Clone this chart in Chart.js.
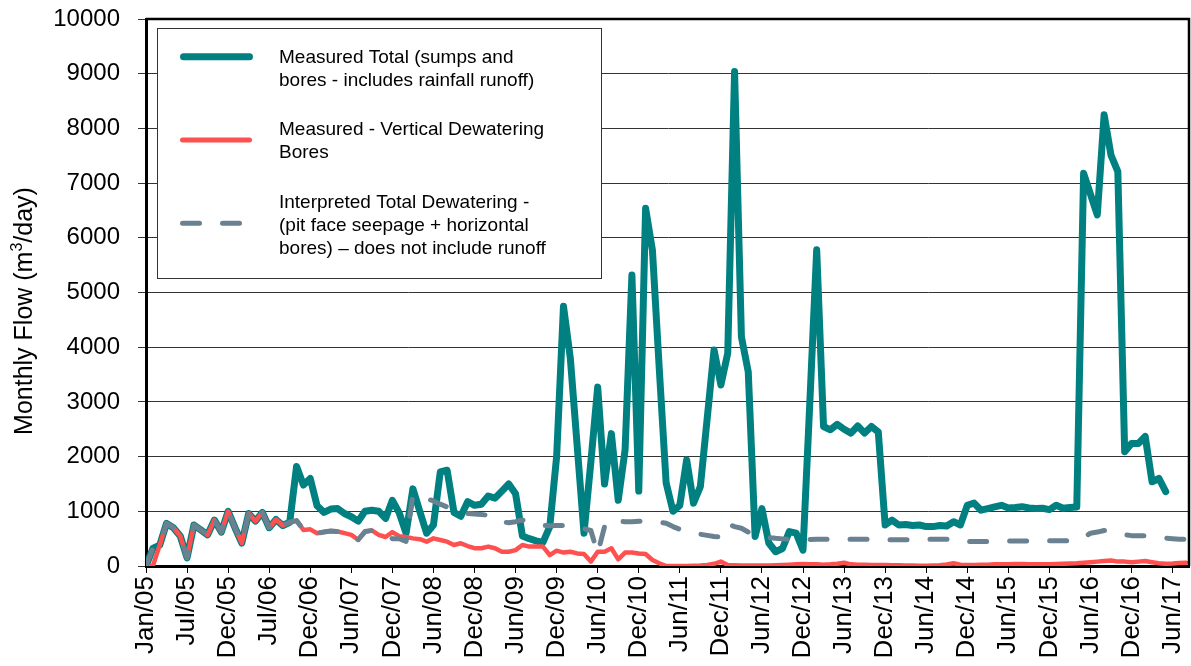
<!DOCTYPE html>
<html>
<head>
<meta charset="utf-8">
<title>Monthly Flow</title>
<script src="https://cdn.jsdelivr.net/npm/chart.js@4"></script>
<style>
  html, body { margin: 0; padding: 0; background: #fff; }
</style>
</head>
<body>
<canvas id="flow-chart" width="1191" height="666"></canvas>
<script>
// Tick labels, one every 6 points along the x axis
var tickLabels = ['Jan/05', 'Jul/05', 'Dec/05', 'Jul/06', 'Dec/06', 'Jun/07', 'Dec/07', 'Jun/08',
  'Dec/08', 'Jun/09', 'Dec/09', 'Jun/10', 'Dec/10', 'Jun/11', 'Dec/11', 'Jun/12', 'Dec/12',
  'Jun/13', 'Dec/13', 'Jun/14', 'Dec/14', 'Jun/15', 'Dec/15', 'Jun/16', 'Dec/16', 'Jun/17'];

// Measured Total (sumps and bores - includes rainfall runoff)
var measuredTotal = [
  0, 320, 380, 780, 700, 550, 150, 750, 660, 570,
  840, 620, 1000, 700, 420, 960, 820, 980, 700, 850,
  740, 800, 1820, 1480, 1600, 1100, 980, 1040, 1050, 960,
  900, 820, 1000, 1020, 1000, 870, 1200, 970, 600, 1410,
  1000, 600, 750, 1720, 1750, 980, 910, 1175, 1110, 1130,
  1280, 1240, 1370, 1500, 1320, 550, 500, 460, 430, 720,
  2000, 4750, 3800, 2200, 600, 1900, 3270, 1500, 2420, 1200,
  2120, 5320, 1370, 6540, 5770, 3600, 1520, 1000, 1110, 1940,
  1150, 1450, 2700, 3950, 3310, 3890, 9040, 4190, 3550, 540,
  1050, 420, 260, 320, 630, 600, 290, 3000, 5780, 2550,
  2490, 2590, 2500, 2430, 2560, 2430, 2550, 2450, 750, 840,
  750, 760, 740, 750, 720, 720, 740, 730, 810, 750,
  1110, 1150, 1020, 1050, 1080, 1110, 1060, 1070, 1085, 1060,
  1050, 1055, 1030, 1110, 1055, 1070, 1080, 7180, 6800, 6420,
  8250, 7510, 7210, 2090, 2240, 2240, 2370, 1540, 1600, 1360
];

// Measured - Vertical Dewatering Bores
var verticalBores = [
  0, 0, 380, 780, 700, 550, 150, 750, 660, 570,
  840, 620, 1000, 700, 420, 960, 820, 980, 700, 850,
  740, 800, 830, 660, 670, 600, 620, 640, 630, 600,
  570, 480, 630, 650, 570, 530, 620, 545, 530, 505,
  490, 445, 505, 475, 445, 385, 415, 365, 325, 325,
  355, 325, 260, 260, 290, 385, 355, 355, 355, 200,
  280, 245, 260, 230, 220, 80, 260, 260, 325, 120,
  245, 245, 230, 220, 110, 50, 0, 0, 0, 0,
  5, 10, 20, 40, 80, 20, 15, 10, 10, 10,
  10, 10, 15, 20, 25, 30, 35, 30, 30, 25,
  30, 40, 60, 30, 25, 25, 20, 20, 20, 15,
  15, 10, 10, 5, 5, 10, 15, 30, 50, 25,
  20, 20, 25, 25, 30, 30, 30, 35, 35, 30,
  30, 30, 30, 35, 40, 45, 50, 60, 70, 80,
  90, 100, 80, 80, 70, 80, 90, 70, 50, 40,
  45, 55, 60
];

// Interpreted Total Dewatering (pit face seepage + horizontal bores)
var interpretedTotal = [
  0, 320, 380, 780, 700, 550, 150, 750, 660, 570,
  840, 620, 1000, 700, 420, 960, 820, 980, 700, 850,
  740, 800, 830, 660, 670, 600, 620, 640, 630, 600,
  570, 480, 630, 650, 570, 530, 500, 500, 450, 1300,
  1250, 1230, 1190, 1130, 1080, 1040, 990, 960, 950, 940,
  930, 890, 810, 790, 810, 840, 800, 770, 740, 735,
  740, 740, 720, 700, 680, 650, 230, 720, 860, 815,
  810, 810, 820, 805, 800, 800, 780, 720, 670, 630,
  600, 580, 560, 540, 530, 770, 720, 690, 620, 560,
  540, 520, 506, 496, 485, 475, 480, 485, 490, 490,
  490, 490, 490, 490, 490, 490, 490, 490, 480, 480,
  480, 480, 480, 480, 490, 490, 490, 490, 490, 490,
  450, 450, 450, 450, 450, 450, 455, 455, 455, 455,
  455, 455, 460, 460, 460, 460, 470, 520, 600, 620,
  650, 640, 600, 570, 555, 555, 550, 540, 525, 510,
  500, 490, 490
];

var FONT = '"Liberation Sans", Arial, sans-serif';

function toPoints(values) {
  return values.map(function(v, i) { return { x: i, y: v }; });
}

// Top and right edges of the plot frame
var plotFrame = {
  id: 'plotFrame',
  afterDatasetsDraw: function(chart) {
    var a = chart.chartArea, ctx = chart.ctx;
    ctx.save();
    ctx.strokeStyle = '#000';
    ctx.lineWidth = 2.5;
    ctx.beginPath();
    ctx.moveTo(a.left, a.top);
    ctx.lineTo(a.right, a.top);
    ctx.lineTo(a.right, a.bottom);
    ctx.stroke();
    ctx.restore();
  }
};

// Boxed legend with wrapped text
var legendBox = {
  id: 'legendBox',
  afterDraw: function(chart) {
    var ctx = chart.ctx;
    var sets = chart.data.datasets;
    ctx.save();
    ctx.fillStyle = '#fff';
    ctx.fillRect(157.5, 28.5, 444, 250);
    ctx.strokeStyle = '#333';
    ctx.lineWidth = 1;
    ctx.strokeRect(157.5, 28.5, 444, 250);

    var rows = [
      { y: 56.7, x0: 183.5, x1: 249.5, width: 7, lines: ['Measured Total (sumps and', 'bores - includes rainfall runoff)'], base: 63.3 },
      { y: 140, x0: 182.5, x1: 249.5, width: 5, lines: ['Measured - Vertical Dewatering', 'Bores'], base: 135 },
      { y: 223.3, x0: 182.5, x1: 239.5, width: 5, lines: ['Interpreted Total Dewatering -', '(pit face seepage + horizontal', 'bores) \u2013 does not include runoff'], base: 208.3 }
    ];
    rows.forEach(function(r, k) {
      var ds = sets[k];
      ctx.strokeStyle = ds.borderColor;
      ctx.lineWidth = r.width;
      ctx.lineCap = 'round';
      ctx.setLineDash(ds.borderDash ? [17, 23] : []);
      ctx.beginPath();
      ctx.moveTo(r.x0, r.y);
      ctx.lineTo(r.x1, r.y);
      ctx.stroke();
      ctx.setLineDash([]);
      ctx.fillStyle = '#000';
      ctx.font = '19px ' + FONT;
      ctx.textBaseline = 'alphabetic';
      r.lines.forEach(function(t, j) {
        ctx.fillText(t, 279, r.base + j * 22.6);
      });
    });
    ctx.restore();
  }
};

// Rotated y axis title with superscript
var yTitle = {
  id: 'yTitle',
  afterDraw: function(chart) {
    var ctx = chart.ctx;
    var parts = [['Monthly Flow (m', '25px ' + FONT, 0], ['3', '16px ' + FONT, -10], ['/day)', '25px ' + FONT, 0]];
    ctx.save();
    ctx.translate(0, 311);
    ctx.rotate(-Math.PI / 2);
    ctx.fillStyle = '#000';
    ctx.textBaseline = 'alphabetic';
    var w = 0;
    parts.forEach(function(p) { ctx.font = p[1]; w += ctx.measureText(p[0]).width; });
    var x = -w / 2;
    parts.forEach(function(p) {
      ctx.font = p[1];
      ctx.fillText(p[0], x, 32 + p[2]);
      x += ctx.measureText(p[0]).width;
    });
    ctx.restore();
  }
};

var ctx = document.getElementById('flow-chart').getContext('2d');
var flowChart = new Chart(ctx, {
  type: 'line',
  data: {
    datasets: [
      {
        label: 'Measured Total (sumps and bores - includes rainfall runoff)',
        data: toPoints(measuredTotal),
        borderColor: '#008080',
        borderWidth: 7,
        order: 3
      },
      {
        label: 'Measured - Vertical Dewatering Bores',
        data: toPoints(verticalBores),
        borderColor: '#FF5050',
        borderWidth: 4.5,
        order: 2
      },
      {
        label: 'Interpreted Total Dewatering - (pit face seepage + horizontal bores) \u2013 does not include runoff',
        data: toPoints(interpretedTotal),
        borderColor: '#6A8192',
        borderWidth: 5,
        borderDash: [17, 23],
        order: 1
      }
    ]
  },
  options: {
    responsive: false,
    animation: false,
    devicePixelRatio: 1,
    layout: {
      autoPadding: false,
      padding: { top: 19, right: 2, left: 0, bottom: 0 }
    },
    elements: {
      point: { radius: 0, hoverRadius: 0 },
      line: { tension: 0, fill: false, borderCapStyle: 'round', borderJoinStyle: 'round' }
    },
    plugins: {
      legend: { display: false },
      tooltip: { enabled: false }
    },
    scales: {
      x: {
        type: 'linear',
        min: 0,
        max: 152.4,
        afterBuildTicks: function(scale) {
          scale.ticks = tickLabels.map(function(t, k) { return { value: k * 6 }; });
        },
        afterFit: function(scale) {
          scale.height = 100;
          scale.paddingLeft = 0;
          scale.paddingRight = 0;
        },
        grid: { drawOnChartArea: false, drawTicks: true, tickLength: 7, color: '#000', lineWidth: 1 },
        border: { color: '#000', width: 3 },
        ticks: {
          autoSkip: false,
          minRotation: 90,
          maxRotation: 90,
          padding: 3,
          color: '#000',
          font: { family: FONT, size: 26 },
          callback: function(value, index) { return tickLabels[index]; }
        }
      },
      y: {
        min: 0,
        max: 10000,
        afterFit: function(scale) {
          scale.width = 146;
          scale.paddingTop = 0;
          scale.paddingBottom = 0;
        },
        grid: { color: '#333', lineWidth: 1, tickLength: 8 },
        border: { color: '#000', width: 3 },
        ticks: {
          stepSize: 1000,
          padding: 18,
          color: '#000',
          font: { family: FONT, size: 24 },
          callback: function(value) { return String(value); }
        }
      }
    }
  },
  plugins: [plotFrame, legendBox, yTitle]
});
</script>
</body>
</html>
